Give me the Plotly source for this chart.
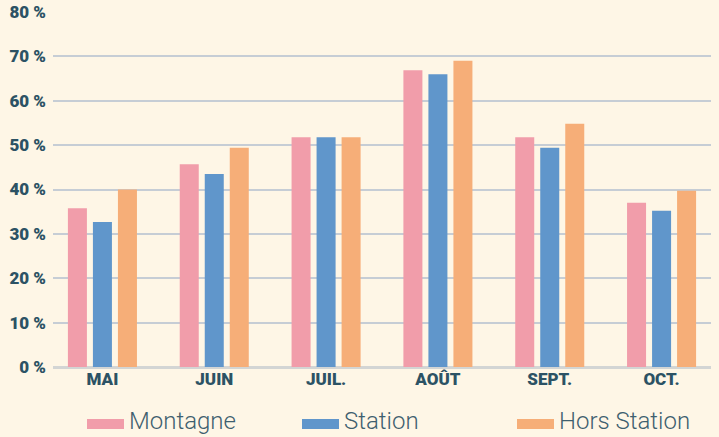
import plotly.graph_objects as go

months = ["MAI", "JUIN", "JUIL.", "AOÛT", "SEPT.", "OCT."]
montagne = [35.8, 45.7, 51.8, 66.9, 51.8, 37.0]
station = [32.7, 43.5, 51.8, 66.0, 49.4, 35.2]
hors_station = [40.0, 49.4, 51.8, 69.0, 54.8, 39.7]
y_ticks = [0, 10, 20, 30, 40, 50, 60, 70, 80]
y_tick_text = [f"{v} %" for v in y_ticks]

series = [
    ("Montagne", montagne, "#F19DAA"),
    ("Station", station, "#6096CB"),
    ("Hors Station", hors_station, "#F6AE78"),
]

W, H = 719, 437
ML, MR, MT, MB = 53, 8, 12, 70
PW, PH = W - ML - MR, H - MT - MB

def px_x(px):
    return (px - ML) / PW

def px_y(py):
    return (H - MB - py) / PH

BG = "#FEF6E6"
TXT = "#2C5264"

fig = go.Figure()
for name, vals, col in series:
    fig.add_trace(go.Bar(x=months, y=vals, name=name, marker_color=col,
                         marker_line_width=0, showlegend=False, hoverinfo="skip"))

# manual legend
leg_x = [87, 302, 517]
shapes = []
annotations = []
for (name, vals, col), lx in zip(series, leg_x):
    shapes.append(dict(type="rect", xref="paper", yref="paper",
                       x0=px_x(lx), x1=px_x(lx + 37), y0=px_y(429), y1=px_y(419),
                       fillcolor=col, line_width=0))
    annotations.append(dict(xref="paper", yref="paper", x=px_x(lx + 40), y=px_y(421),
                            xanchor="left", yanchor="middle", showarrow=False,
                            text=name,
                            font=dict(family="Roboto", size=24, color="#3E5F6F", weight=300)))

fig.update_layout(
    width=W, height=H,
    margin=dict(l=ML, r=MR, t=MT, b=MB, autoexpand=False),
    paper_bgcolor=BG, plot_bgcolor=BG,
    barmode="group", bargap=0.329, bargroupgap=0.24,
    shapes=shapes, annotations=annotations,
    showlegend=False,
    font=dict(family="Roboto", color=TXT),
)
fig.update_xaxes(
    range=[-0.442, 5.442], showgrid=False, showline=False, zeroline=False,
    automargin=False,
    tickfont=dict(family="Roboto", size=17, color=TXT, weight=900),
    ticks="",
)
fig.update_yaxes(
    range=[0, 80], tickmode="array", tickvals=y_ticks, ticktext=y_tick_text,
    showgrid=True, gridcolor="#C6CDD5", gridwidth=1.5,
    zeroline=True, zerolinecolor="#D3D5D4", zerolinewidth=2.5,
    showline=False, ticks="", automargin=False,
    ticklabelstandoff=6,
    tickfont=dict(family="Roboto", size=17, color=TXT, weight=900),
)

fig.write_html(
    "out.html",
    config={"displayModeBar": False},
    post_script="document.body.style.margin='0';document.body.style.background='#FEF6E6';",
)
